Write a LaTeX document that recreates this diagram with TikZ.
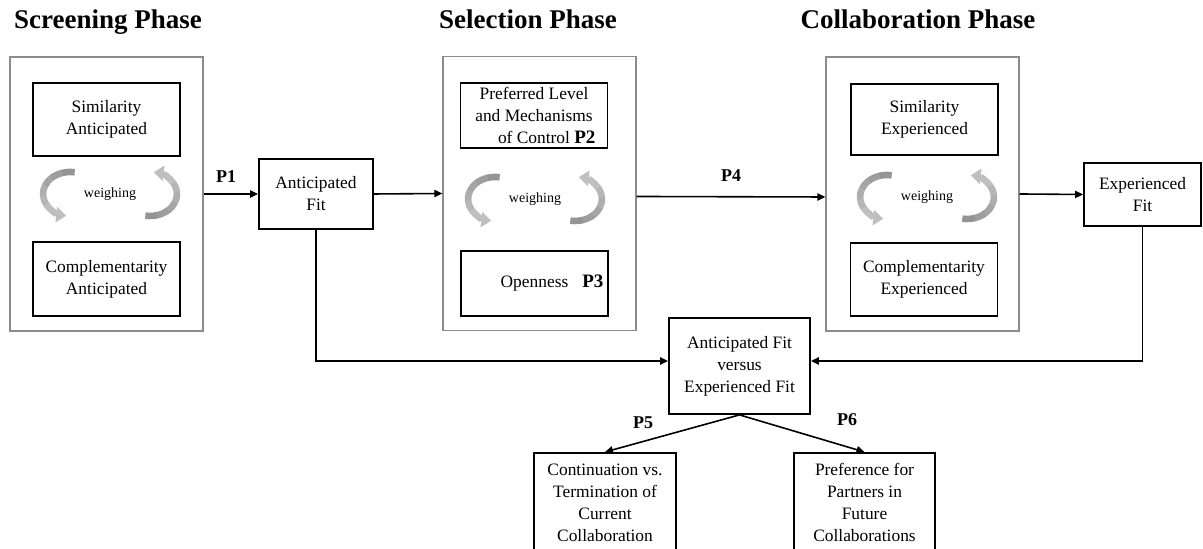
\documentclass[tikz,border=0pt]{standalone}
\usepackage{fontspec}
\setmainfont{Liberation Serif}
\usetikzlibrary{arrows.meta}
\definecolor{frameline}{HTML}{8C8C8C}
\definecolor{swirldark}{HTML}{949494}
\definecolor{swirllight}{HTML}{CDCDCD}

\begin{document}
\begin{tikzpicture}[x=0.5pt, y=0.5pt,
  font=\fontsize{8.7pt}{11pt}\selectfont,
  phase/.style={draw=frameline, line width=0.6pt, minimum width=96.5pt, minimum height=137pt},
  inbox/.style={draw=black, line width=0.9pt, align=center, minimum width=73.5pt, inner sep=2pt},
  fitbox/.style={draw=black, line width=0.9pt, align=center, inner sep=2pt},
  title/.style={font=\fontsize{13.5pt}{16pt}\selectfont\bfseries, anchor=base},
  plabel/.style={font=\fontsize{9pt}{11pt}\selectfont\bfseries},
  weightext/.style={font=\fontsize{7pt}{8pt}\selectfont},
  arr/.style={-{Triangle[length=4pt, width=3.6pt]}, line width=0.8pt},
  swirlseg/.style={line width=3.3pt},
  swirlarr/.style={-{Triangle[length=5pt, width=7.5pt]}, draw=swirldark!25!swirllight, line width=3.3pt}]
\useasboundingbox (0,0) rectangle (1203,549);
\clip (0,0) rectangle (1203,549);
% phase titles
\node[title] (tscr) at (108,520) {Screening Phase};
\node[title] (tsel) at (528,520) {Selection Phase};
\node[title] (tcol) at (918,520) {Collaboration Phase};
% phase frames
\node[phase] (scr) at (106.5,355) {};
\node[phase] (sel) at (539.5,355.5) {};
\node[phase] (col) at (922.5,355) {};
% inner boxes
\node[inbox, minimum height=36.5pt] (simant) at (106.5,429.5) {Similarity\\Anticipated};
\node[inbox, minimum height=37pt] (comant) at (106.5,270) {Complementarity\\Anticipated};
\node[inbox, minimum height=32.5pt] (prefctl) at (534,433.5) {Preferred Level\\and Mechanisms\\of Control\rlap{ {\fontsize{9.5pt}{11pt}\selectfont\bfseries P2}}};
\node[inbox, minimum height=32.5pt] (open) at (534.5,265.5) {Openness\rlap{\hspace{7pt}{\fontsize{9.5pt}{11pt}\selectfont\bfseries P3}}};
\node[inbox, minimum height=35.5pt] (simexp) at (924.5,429.5) {Similarity\\Experienced};
\node[inbox, minimum height=36.5pt] (comexp) at (924,269.5) {Complementarity\\Experienced};
% weighing
\node[weightext] (wscr) at (110,355) {weighing};
\node[weightext] (wsel) at (535,350) {weighing};
\node[weightext] (wcol) at (927,352) {weighing};
\foreach \cx/\cy in {110/355, 535/350, 927/352} {
  \foreach \sa/\dx in {80/-40, -100/40} {
    \foreach \i in {0,...,4} {
      \pgfmathtruncatemacro\pct{100-\i*15}
      \draw[swirlseg, draw=swirldark!\pct!swirllight] ([shift={(\sa+\i*26:27 and 22)}]\cx+\dx,\cy)
        arc[start angle=\sa+\i*26, end angle=\sa+\i*26+27, x radius=27, y radius=22];
    }
    \draw[swirlarr] ([shift={(\sa+130:27 and 22)}]\cx+\dx,\cy)
      arc[start angle=\sa+130, end angle=\sa+182, x radius=27, y radius=22];
  }
}
% fit boxes
\node[fitbox, minimum width=57pt, minimum height=35pt] (af) at (316,355) {Anticipated\\Fit};
\node[fitbox, minimum width=58.5pt, minimum height=31.5pt] (ef) at (1142.5,354.5) {Experienced\\Fit};
\node[fitbox, minimum width=70.5pt, minimum height=48pt] (ave) at (739.5,183) {Anticipated Fit\\versus\\Experienced Fit};
\node[fitbox, anchor=north, minimum width=71pt, minimum height=50pt] (cont) at (605,97) {Continuation vs.\\Termination of\\Current\\Collaboration};
\node[fitbox, anchor=north, minimum width=70.5pt, minimum height=50pt] (future) at (864.5,97) {Preference for\\Partners in\\Future\\Collaborations};
% connectors
\draw[arr] (scr.east) -- (af.west);
\draw[arr] (af.east) -- (sel.west);
\draw[arr] ([yshift=-1.5pt]sel.east) -- ([yshift=-1.5pt]col.west);
\draw[arr] (col.east) -- (ef.west);
\draw[arr] (af.south) |- ([yshift=2.5pt]ave.west);
\draw[arr] (ef.south) |- ([yshift=2.5pt]ave.east);
\draw[arr] (ave.south) -- (cont.north);
\draw[arr] (ave.south) -- (future.north);
% proposition labels
\node[plabel] (p1) at (226,372) {P1};
\node[plabel] (p4) at (731,373) {P4};
\node[plabel] (p5) at (643,126) {P5};
\node[plabel] (p6) at (847,129) {P6};
\end{tikzpicture}
\end{document}
